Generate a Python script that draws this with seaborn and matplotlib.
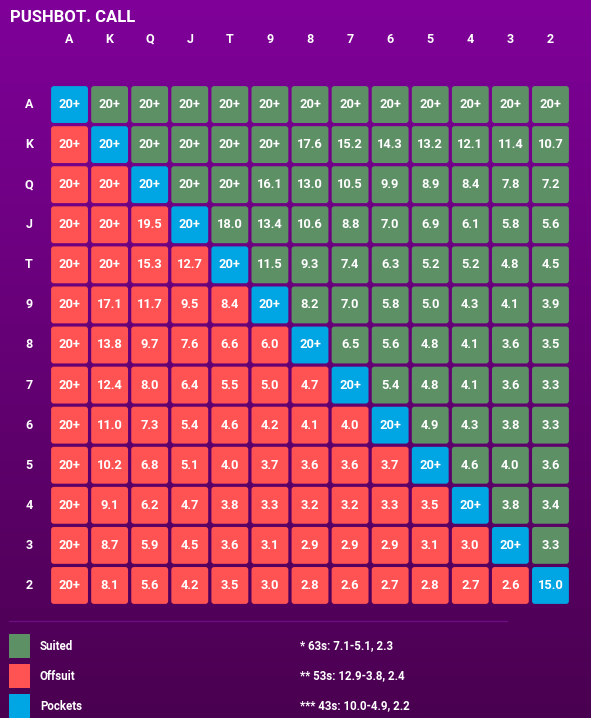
import matplotlib
matplotlib.use('Agg')
import matplotlib.pyplot as plt
import numpy as np
import pandas as pd
import seaborn as sns
from matplotlib.colors import ListedColormap, LinearSegmentedColormap
from matplotlib.patches import FancyBboxPatch, Rectangle
from matplotlib.lines import Line2D

sns.set_style('white')
plt.rcParams['font.family'] = ['Roboto', 'DejaVu Sans']
plt.rcParams['font.weight'] = 'bold'

# ── Data ──
RANKS = ["A", "K", "Q", "J", "T", "9", "8", "7", "6", "5", "4", "3", "2"]

ROW_A = ["20+"] * 13
ROW_K = ["20+", "20+", "20+", "20+", "20+", "20+", "17.6", "15.2", "14.3", "13.2", "12.1", "11.4", "10.7"]
ROW_Q = ["20+", "20+", "20+", "20+", "20+", "16.1", "13.0", "10.5", "9.9", "8.9", "8.4", "7.8", "7.2"]
ROW_J = ["20+", "20+", "19.5", "20+", "18.0", "13.4", "10.6", "8.8", "7.0", "6.9", "6.1", "5.8", "5.6"]
ROW_T = ["20+", "20+", "15.3", "12.7", "20+", "11.5", "9.3", "7.4", "6.3", "5.2", "5.2", "4.8", "4.5"]
ROW_9 = ["20+", "17.1", "11.7", "9.5", "8.4", "20+", "8.2", "7.0", "5.8", "5.0", "4.3", "4.1", "3.9"]
ROW_8 = ["20+", "13.8", "9.7", "7.6", "6.6", "6.0", "20+", "6.5", "5.6", "4.8", "4.1", "3.6", "3.5"]
ROW_7 = ["20+", "12.4", "8.0", "6.4", "5.5", "5.0", "4.7", "20+", "5.4", "4.8", "4.1", "3.6", "3.3"]
ROW_6 = ["20+", "11.0", "7.3", "5.4", "4.6", "4.2", "4.1", "4.0", "20+", "4.9", "4.3", "3.8", "3.3"]
ROW_5 = ["20+", "10.2", "6.8", "5.1", "4.0", "3.7", "3.6", "3.6", "3.7", "20+", "4.6", "4.0", "3.6"]
ROW_4 = ["20+", "9.1", "6.2", "4.7", "3.8", "3.3", "3.2", "3.2", "3.3", "3.5", "20+", "3.8", "3.4"]
ROW_3 = ["20+", "8.7", "5.9", "4.5", "3.6", "3.1", "2.9", "2.9", "2.9", "3.1", "3.0", "20+", "3.3"]
ROW_2 = ["20+", "8.1", "5.6", "4.2", "3.5", "3.0", "2.8", "2.6", "2.7", "2.8", "2.7", "2.6", "15.0"]

LABELS = [ROW_A, ROW_K, ROW_Q, ROW_J, ROW_T, ROW_9, ROW_8, ROW_7,
          ROW_6, ROW_5, ROW_4, ROW_3, ROW_2]

LEGEND_NAMES = ["Suited", "Offsuit", "Pockets"]
NOTES = ["* 63s: 7.1-5.1, 2.3", "** 53s: 12.9-3.8, 2.4", "*** 43s: 10.0-4.9, 2.2"]

# ── Colors ──
C_SUITED = '#5E9066'
C_OFFSUIT = '#FF5353'
C_POCKET = '#00A6E3'
TOP_BG = '#7F0099'
BOT_BG = '#4A0050'

# hand type: 0 suited (above diagonal), 1 offsuit (below), 2 pocket pair
n = len(RANKS)
idx = np.arange(n)
hand_type = np.where(idx[:, None] == idx[None, :], 2,
                     np.where(idx[None, :] > idx[:, None], 0, 1))
df = pd.DataFrame(hand_type, index=RANKS, columns=RANKS)
annot = np.array(LABELS)

W, H = 591, 718
fig = plt.figure(figsize=(W / 100, H / 100), dpi=100)

# background gradient
bg = fig.add_axes([0, 0, 1, 1], zorder=-5)
grad = LinearSegmentedColormap.from_list('bg', [TOP_BG, BOT_BG])
bg.imshow(np.linspace(0, 1, 256)[:, None], cmap=grad, aspect='auto',
          extent=[0, 1, 0, 1])
bg.set_axis_off()

# grid
gx0, gx1, gy0, gy1 = 49.5, 570.5, 84.5, 605.5
ax = fig.add_axes([gx0 / W, 1 - gy1 / H, (gx1 - gx0) / W, (gy1 - gy0) / H])
ax.set_facecolor('none')
cmap = ListedColormap([C_SUITED, C_OFFSUIT, C_POCKET])
sns.heatmap(df, ax=ax, cmap=cmap, vmin=-0.5, vmax=2.5, cbar=False,
            annot=annot, fmt='', square=False,
            annot_kws={'size': 9.3, 'weight': 'bold', 'color': 'white'})

# swap the flat mesh for rounded tiles
mesh = ax.collections[0]
mesh.set_visible(False)
inset = 0.04
for i in range(n):
    for j in range(n):
        ax.add_patch(FancyBboxPatch(
            (j + inset, i + inset), 1 - 2 * inset, 1 - 2 * inset,
            boxstyle='round,pad=0,rounding_size=0.07',
            facecolor=cmap(hand_type[i, j]), edgecolor='none', zorder=2))
for t in ax.texts:
    t.set_zorder(3)
    t.set_color('white')

ax.xaxis.tick_top()
ax.tick_params(axis='x', length=0, pad=28, labelsize=9, labelcolor='white')
ax.tick_params(axis='y', length=0, pad=12, labelsize=9, labelcolor='white',
               rotation=0)
for lab in ax.get_xticklabels() + ax.get_yticklabels():
    lab.set_fontweight('bold')
ax.set_xlabel('')
ax.set_ylabel('')
for s in ax.spines.values():
    s.set_visible(False)

# title
fig.text(10 / W, 1 - 17 / H, 'PUSHBOT. CALL', color='white', fontsize=12,
         fontweight='bold', va='center', ha='left')

# separator
fig.add_artist(Line2D([9 / W, 507 / W], [1 - 621 / H, 1 - 621 / H],
                      color='#6B0E82', lw=1))

# legend
leg_colors = [C_SUITED, C_OFFSUIT, C_POCKET]
for k, (name, col, note) in enumerate(zip(LEGEND_NAMES, leg_colors, NOTES)):
    yc = 646 + 30 * k
    fig.add_artist(Rectangle((9 / W, 1 - (yc + 12) / H), 21 / W, 24 / H,
                             transform=fig.transFigure, facecolor=col,
                             edgecolor='none'))
    fig.text(40 / W, 1 - yc / H, name, color='white', fontsize=8.3,
             fontweight='bold', va='center', ha='left')
    fig.text(300 / W, 1 - yc / H, note, color='white', fontsize=8.3,
             fontweight='bold', va='center', ha='left')

fig.savefig('out.png', dpi=100)
plt.close(fig)
